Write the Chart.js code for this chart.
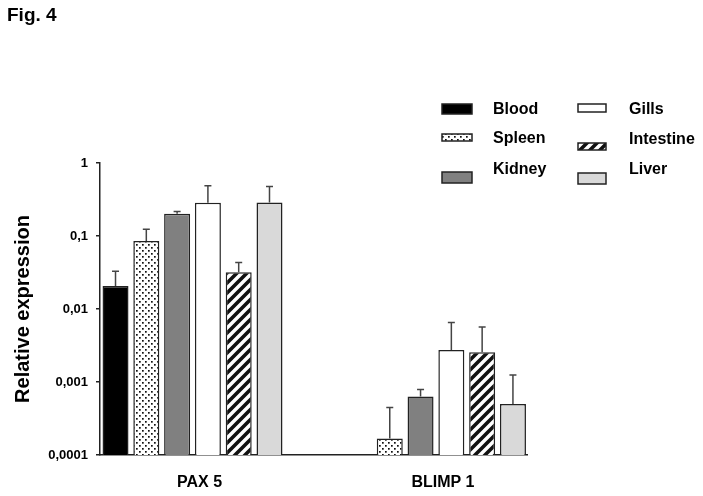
<!DOCTYPE html>
<html>
<head>
<meta charset="utf-8">
<script src="https://cdn.jsdelivr.net/npm/chart.js@4.4.1/dist/chart.umd.min.js"></script>
<style>
  body { margin: 0; background: #fff; }
  #wrap { width: 703px; height: 496px; }
</style>
</head>
<body>
<div id="wrap"><canvas id="fig4"></canvas></div>
<script>
// genes on the x axis and tissues (one dataset each)
const genes = ["PAX 5", "BLIMP 1"];
const tissues = ["Blood", "Spleen", "Kidney", "Gills", "Intestine", "Liver"];

// relative expression: [PAX 5, BLIMP 1]
const blood = [0.0206, null];
const spleen = [0.0855, 0.000168];
const kidney = [0.201, 0.000634];
const gills = [0.285, 0.00275];
const intestine = [0.0318, 0.00255];
const liver = [0.288, 0.000498];

// upper end of each error bar
const bloodErr = [0.033, null];
const spleenErr = [0.124, 0.000447];
const kidneyErr = [0.217, 0.00079];
const gillsErr = [0.488, 0.00652];
const intestineErr = [0.0432, 0.00569];
const liverErr = [0.478, 0.00125];

// y axis ticks
const yTickValues = [0.0001, 0.001, 0.01, 0.1, 1];
const yTickLabels = ["0,0001", "0,001", "0,01", "0,1", "1"];

const FONT = 'Arial, "Liberation Sans", sans-serif';

const canvas = document.getElementById("fig4");
const ctx = canvas.getContext("2d");

// Dotted fill for spleen
function dotPattern() {
  const c = document.createElement("canvas");
  c.width = 6;
  c.height = 6;
  const g = c.getContext("2d");
  g.fillStyle = "#fff";
  g.fillRect(0, 0, 6, 6);
  g.fillStyle = "#111";
  g.fillRect(1, 1, 1.7, 1.7);
  g.fillRect(4, 4, 1.7, 1.7);
  return ctx.createPattern(c, "repeat");
}

// Diagonal stripes for intestine
function stripePattern() {
  const c = document.createElement("canvas");
  c.width = 10;
  c.height = 10;
  const g = c.getContext("2d");
  g.fillStyle = "#fff";
  g.fillRect(0, 0, 10, 10);
  g.strokeStyle = "#111";
  g.lineWidth = 3.6;
  g.beginPath();
  g.moveTo(-2, 12); g.lineTo(12, -2);
  g.moveTo(-2, 2); g.lineTo(2, -2);
  g.moveTo(8, 12); g.lineTo(12, 8);
  g.stroke();
  return ctx.createPattern(c, "repeat");
}

const values = [blood, spleen, kidney, gills, intestine, liver];
const uppers = [bloodErr, spleenErr, kidneyErr, gillsErr, intestineErr, liverErr];
const fills = ["#000000", dotPattern(), "#808080", "#ffffff", stripePattern(), "#d9d9d9"];

const datasets = tissues.map(function (name, t) {
  return {
    label: name,
    data: values[t].map(function (v, i) { return { x: i, y: v }; }),
    upper: uppers[t],
    backgroundColor: fills[t],
    borderColor: "#222",
    borderWidth: 1.5,
    categoryPercentage: 0.759,
    barPercentage: 0.844,
  };
});

// Upward error whiskers with a small cap
const errorBars = {
  id: "errorBars",
  afterDatasetsDraw(chart) {
    const g = chart.ctx;
    const yScale = chart.scales.y;
    g.save();
    g.strokeStyle = "#444";
    g.lineWidth = 1.5;
    chart.data.datasets.forEach(function (ds, d) {
      chart.getDatasetMeta(d).data.forEach(function (bar, i) {
        const top = ds.upper[i];
        if (top == null || ds.data[i].y == null) return;
        const yTop = yScale.getPixelForValue(top);
        g.beginPath();
        g.moveTo(bar.x, bar.y);
        g.lineTo(bar.x, yTop);
        g.moveTo(bar.x - 3.5, yTop);
        g.lineTo(bar.x + 3.5, yTop);
        g.stroke();
      });
    });
    g.restore();
  },
};

// Two-column legend at top right plus the figure label
const legendBoxes = [
  { x: 442, y: 104, w: 30, h: 10, tx: 493, ty: 114 },
  { x: 442, y: 134, w: 30, h: 7, tx: 493, ty: 143 },
  { x: 442, y: 172, w: 30, h: 11, tx: 493, ty: 174 },
  { x: 578, y: 104, w: 28, h: 8, tx: 629, ty: 114 },
  { x: 578, y: 143, w: 28, h: 7, tx: 629, ty: 144 },
  { x: 578, y: 173, w: 28, h: 11, tx: 629, ty: 174 },
];

const figLegend = {
  id: "figLegend",
  afterDraw(chart) {
    const g = chart.ctx;
    g.save();
    g.fillStyle = "#000";
    g.font = "bold 19px " + FONT;
    g.textBaseline = "alphabetic";
    g.fillText("Fig. 4", 7, 21);

    g.font = "bold 16px " + FONT;
    chart.data.datasets.forEach(function (ds, i) {
      const b = legendBoxes[i];
      g.fillStyle = ds.backgroundColor;
      g.fillRect(b.x, b.y, b.w, b.h);
      g.strokeStyle = "#222";
      g.lineWidth = 1.5;
      g.strokeRect(b.x, b.y, b.w, b.h);
      g.fillStyle = "#000";
      g.fillText(ds.label, b.tx, b.ty);
    });
    g.restore();
  },
};

new Chart(ctx, {
  type: "bar",
  data: { datasets: datasets },
  options: {
    responsive: true,
    maintainAspectRatio: false,
    animation: false,
    layout: { padding: { top: 163, right: 176, bottom: 0, left: 10 } },
    plugins: {
      legend: { display: false },
      tooltip: { enabled: false },
    },
    scales: {
      x: {
        type: "linear",
        min: -0.38,
        max: 1.374,
        offset: false,
        afterBuildTicks: function (scale) {
          scale.ticks = genes.map(function (g, i) { return { value: i }; });
        },
        afterFit: function (scale) { scale.height = 41; },
        grid: { display: false, drawTicks: false, offset: false },
        border: { display: true, color: "#222", width: 1.5 },
        ticks: {
          padding: 18,
          labelOffset: 7,
          color: "#000",
          maxRotation: 0,
          autoSkip: false,
          font: { family: FONT, size: 16, weight: "bold" },
          callback: function (v) { return genes[v]; },
        },
      },
      y: {
        type: "logarithmic",
        min: 0.0001,
        max: 1,
        afterBuildTicks: function (scale) {
          scale.ticks = yTickValues.map(function (v) { return { value: v, major: true }; });
        },
        afterFit: function (scale) { scale.width = 90; },
        grid: { drawOnChartArea: false, drawTicks: true, tickLength: 4, color: "#222", lineWidth: 1.5 },
        border: { display: true, color: "#222", width: 1.5 },
        ticks: {
          padding: 8,
          color: "#000",
          font: { family: FONT, size: 13, weight: "bold" },
          callback: function (v) { return yTickLabels[yTickValues.indexOf(v)]; },
        },
        title: {
          display: true,
          text: "Relative expression",
          color: "#000",
          padding: { top: 1, bottom: 0 },
          font: { family: FONT, size: 20, weight: "bold" },
        },
      },
    },
  },
  plugins: [errorBars, figLegend],
});
</script>
</body>
</html>
